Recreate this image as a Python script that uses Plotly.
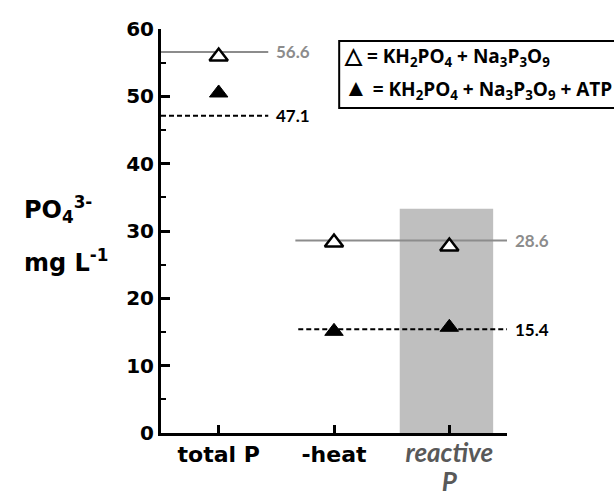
import plotly.graph_objects as go

categories = ["total P", "-heat", "reactive P"]
open_vals = [55.9, 28.3, 27.7]      # KH2PO4 + Na3P3O9
filled_vals = [50.5, 15.1, 15.7]    # KH2PO4 + Na3P3O9 + ATP
ref_open = [56.6, 28.6]
ref_filled = [47.1, 15.4]
y_ticks = [0, 10, 20, 30, 40, 50, 60]
legend_labels = [
    "<span style='font-size:22px'>△</span> = KH<sub>2</sub>PO<sub>4</sub> + Na<sub>3</sub>P<sub>3</sub>O<sub>9</sub>",
    "<span style='font-size:24px'>▲</span> = KH<sub>2</sub>PO<sub>4</sub> + Na<sub>3</sub>P<sub>3</sub>O<sub>9</sub> + ATP",
]

xpos = [1, 2, 3]
ARIAL = "DejaVu Sans"
CAL = "Lato"

fig = go.Figure()

# shaded region behind reactive P
fig.add_shape(type="rect", xref="x", yref="y", x0=2.57, x1=3.38, y0=0, y1=33.3,
              fillcolor="#bfbfbf", line=dict(width=0), layer="below")

# reference lines
seg_open = [(0.5, 1.43), (1.665, 3.5)]
seg_filled = [(0.5, 1.43), (1.69, 3.5)]
for (x0, x1), v in zip(seg_open, ref_open):
    fig.add_trace(go.Scatter(x=[x0, x1], y=[v, v], mode="lines",
                             line=dict(color="#8c8c8c", width=2), showlegend=False,
                             hoverinfo="skip", cliponaxis=False))
    fig.add_annotation(x=x1, y=v, xref="x", yref="y", text=f"{v:.1f}",
                       showarrow=False, xanchor="left", xshift=6,
                       font=dict(family=CAL, size=17, color="#8c8c8c", weight="bold"))
for (x0, x1), v in zip(seg_filled, ref_filled):
    fig.add_trace(go.Scatter(x=[x0, x1], y=[v, v], mode="lines",
                             line=dict(color="black", width=2, dash="5px,3px"), showlegend=False,
                             hoverinfo="skip", cliponaxis=False))
    fig.add_annotation(x=x1, y=v, xref="x", yref="y", text=f"{v:.1f}",
                       showarrow=False, xanchor="left", xshift=6,
                       font=dict(family=CAL, size=17, color="black", weight="bold"))

fig.add_trace(go.Scatter(x=xpos, y=open_vals, mode="markers",
                         marker=dict(symbol="triangle-up", size=16, color="white",
                                     line=dict(color="black", width=2.5)),
                         showlegend=False, hoverinfo="skip"))
fig.add_trace(go.Scatter(x=xpos, y=filled_vals, mode="markers",
                         marker=dict(symbol="triangle-up", size=16, color="black",
                                     line=dict(color="black", width=1)),
                         showlegend=False, hoverinfo="skip"))

# legend box
fig.add_shape(type="rect", xref="paper", yref="paper", x0=0.515, x1=1.33, y0=0.8046, y1=0.9703,
              line=dict(color="black", width=2), fillcolor="white", layer="above")
for lab, yp in zip(legend_labels, [0.936, 0.8566]):
    fig.add_annotation(xref="paper", yref="paper", x=0.5225, y=yp, xanchor="left", yanchor="middle",
                       text=lab, showarrow=False, align="left",
                       font=dict(family="Open Sans", size=19, color="black", weight="bold"))

# y-axis title
fig.add_annotation(xref="paper", yref="paper", x=0, y=0.552, xanchor="left", yanchor="middle",
                   xshift=-139, text="PO<sub>4</sub><sup>3-</sup>",
                   showarrow=False, align="left",
                   font=dict(family=ARIAL, size=24, color="black", weight="bold"))
fig.add_annotation(xref="paper", yref="paper", x=0, y=0.425, xanchor="left", yanchor="middle",
                   xshift=-139, text="mg L<sup>-1</sup>",
                   showarrow=False, align="left",
                   font=dict(family=ARIAL, size=24, color="black", weight="bold"))

ticktext = ["total P", "-heat",
            "<span style='font-family:Lato;color:#595959;font-size:26px;font-weight:bold'><i>reactive<br>P</i></span>"]

fig.update_layout(
    width=614, height=497,
    margin=dict(l=161, r=107, t=29, b=64, autoexpand=False),
    plot_bgcolor="white", paper_bgcolor="white",
    hovermode=False,
    xaxis=dict(range=[0.5, 3.5], tickvals=xpos, ticktext=ticktext, showgrid=False,
               zeroline=False, showline=True, linecolor="black", linewidth=3,
               automargin=False,
               ticks="inside", ticklen=8, tickwidth=3, tickcolor="black",
               tickfont=dict(family=ARIAL, size=22, color="black", weight="bold")),
    yaxis=dict(range=[0, 60], tickvals=y_ticks, showgrid=False, zeroline=False,
               showline=True, linecolor="black", linewidth=3,
               automargin=False,
               ticks="inside", ticklen=9, tickwidth=3, tickcolor="black",
               minor=dict(dtick=5, ticks="inside", ticklen=5, tickwidth=2, tickcolor="black"),
               tickfont=dict(family=ARIAL, size=20, color="black", weight="bold")),
)

fig.write_html("out.html", config={"displayModeBar": False},
               post_script="document.body.style.margin='0';")
